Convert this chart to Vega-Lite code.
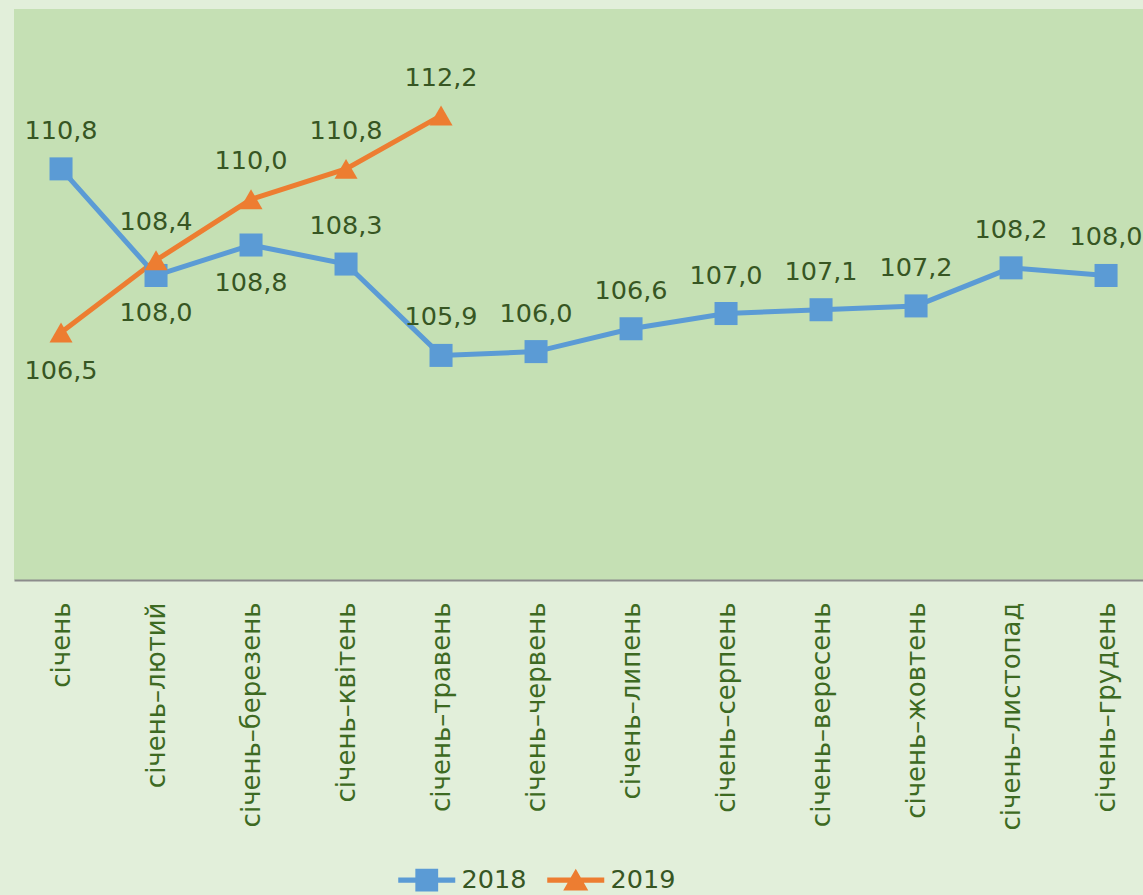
{
  "$schema": "https://vega.github.io/schema/vega-lite/v6.json",
  "width": 1129,
  "height": 571,
  "autosize": {"type": "none"},
  "padding": {"left": 14, "top": 9, "right": 0, "bottom": 315},
  "background": "#e2efda",
  "config": {
    "view": {"fill": "#c5e0b4", "stroke": null},
    "font": "DejaVu Sans",
    "locale": {"number": {"decimal": ",", "thousands": " ", "grouping": [3], "currency": ["", ""]}}
  },
  "data": {
    "values": [
      {"month": "січень", "year": "2018", "value": 110.8},
      {"month": "січень–лютий", "year": "2018", "value": 108.0},
      {"month": "січень–березень", "year": "2018", "value": 108.8},
      {"month": "січень–квітень", "year": "2018", "value": 108.3},
      {"month": "січень–травень", "year": "2018", "value": 105.9},
      {"month": "січень–червень", "year": "2018", "value": 106.0},
      {"month": "січень–липень", "year": "2018", "value": 106.6},
      {"month": "січень–серпень", "year": "2018", "value": 107.0},
      {"month": "січень–вересень", "year": "2018", "value": 107.1},
      {"month": "січень–жовтень", "year": "2018", "value": 107.2},
      {"month": "січень–листопад", "year": "2018", "value": 108.2},
      {"month": "січень–грудень", "year": "2018", "value": 108.0},
      {"month": "січень", "year": "2019", "value": 106.5},
      {"month": "січень–лютий", "year": "2019", "value": 108.4},
      {"month": "січень–березень", "year": "2019", "value": 110.0},
      {"month": "січень–квітень", "year": "2019", "value": 110.8},
      {"month": "січень–травень", "year": "2019", "value": 112.2}
    ]
  },
  "encoding": {
    "x": {
      "field": "month", "type": "nominal", "sort": null,
      "scale": {"type": "point", "padding": 0.442, "align": 0.56},
      "axis": {
        "title": null, "labelAngle": -90, "labelFontSize": 26, "labelColor": "#3d6a22",
        "labelFont": "DejaVu Sans", "labelPadding": 22, "ticks": false, "grid": false,
        "domainColor": "#8c8c8c", "domainWidth": 2, "labelLimit": 400
      }
    },
    "y": {
      "field": "value", "type": "quantitative",
      "scale": {"domain": [100, 115], "nice": false, "zero": false},
      "axis": null
    },
    "color": {
      "field": "year", "type": "nominal",
      "scale": {"domain": ["2018", "2019"], "range": ["#5b9bd5", "#ed7d31"]},
      "legend": {
        "title": null, "orient": "none", "direction": "horizontal",
        "legendX": 400, "legendY": 858,
        "labelFontSize": 25.5, "labelColor": "#375623", "labelFont": "DejaVu Sans",
        "symbolSize": 520, "labelOffset": 22, "columnPadding": 20,
        "encode": {
          "symbols": {
            "update": {
              "shape": {"signal": "datum.value === '2018' ? 'M-2.5,-0.22H2.5V0.22H-2.5Z M-1,-1H1V1H-1Z' : 'M-2.5,-0.22H2.5V0.22H-2.5Z M0,-1L1.1,0.9H-1.1Z'"},
              "fill": {"signal": "datum.value === '2018' ? '#5b9bd5' : '#ed7d31'"},
              "strokeWidth": {"value": 0},
              "opacity": {"value": 1},
              "fillOpacity": {"value": 1}
            }
          }
        }
      }
    }
  },
  "layer": [
    {
      "mark": {"type": "line", "strokeWidth": 5}
    },
    {
      "transform": [{"filter": "datum.year === '2018'"}],
      "mark": {"type": "point", "filled": true, "size": 530, "opacity": 1, "shape": "square"}
    },
    {
      "transform": [{"filter": "datum.year === '2019'"}],
      "mark": {"type": "point", "filled": true, "size": 530, "opacity": 1, "shape": "triangle-up"}
    },
    {
      "transform": [{"filter": "!((datum.year === '2018' && (datum.month === 'січень–лютий' || datum.month === 'січень–березень')) || (datum.year === '2019' && datum.month === 'січень'))"}],
      "mark": {"type": "text", "fontSize": 25.5, "baseline": "middle", "dy": -38},
      "encoding": {
        "text": {"field": "value", "type": "quantitative", "format": ".1f"},
        "color": {"value": "#375623"}
      }
    },
    {
      "transform": [{"filter": "(datum.year === '2018' && (datum.month === 'січень–лютий' || datum.month === 'січень–березень')) || (datum.year === '2019' && datum.month === 'січень')"}],
      "mark": {"type": "text", "fontSize": 25.5, "baseline": "middle", "dy": 38},
      "encoding": {
        "text": {"field": "value", "type": "quantitative", "format": ".1f"},
        "color": {"value": "#375623"}
      }
    }
  ]
}
